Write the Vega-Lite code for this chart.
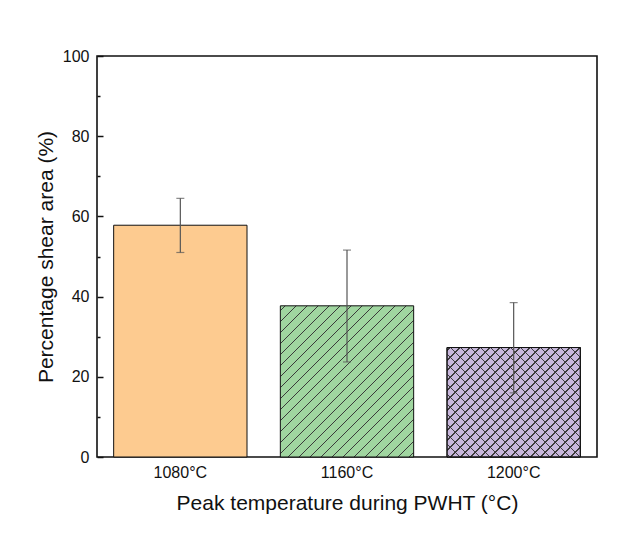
{
  "$schema": "https://vega.github.io/schema/vega-lite/v6.json",
  "autosize": {"type": "none"},
  "padding": {"left": 97, "top": 56, "right": 34, "bottom": 91},
  "width": 500,
  "height": 401,
  "background": "white",
  "config": {
    "font": "Liberation Sans",
    "view": {"stroke": "#111111", "strokeWidth": 1.6},
    "axis": {"domain": false, "grid": false, "labelColor": "#111111", "titleColor": "#111111", "labelFont": "Liberation Sans", "titleFont": "Liberation Sans", "labelFontSize": 16, "titleFontSize": 21, "titleFontWeight": "normal"}
  },
  "data": {
    "values": [
      {"temp": "1080°C", "value": 57.8, "lo": 51.0, "hi": 64.5},
      {"temp": "1160°C", "value": 37.7, "lo": 23.7, "hi": 51.6},
      {"temp": "1200°C", "value": 27.3, "lo": 16.0, "hi": 38.5}
    ]
  },
  "encoding": {
    "x": {
      "field": "temp", "type": "nominal", "sort": null,
      "scale": {"domain": ["1080°C", "1160°C", "1200°C"], "paddingInner": 0.2, "paddingOuter": 0.1},
      "axis": {"title": "Peak temperature during PWHT (°C)", "labelAngle": 0, "ticks": false, "labelPadding": 7, "titlePadding": 12}
    }
  },
  "layer": [
    {
      "transform": [{"filter": "datum.temp === '1080°C'"}],
      "mark": {"type": "bar", "fill": "#FDCB90", "stroke": "#111111", "strokeWidth": 1},
      "encoding": {
        "y": {
          "field": "value", "type": "quantitative",
          "scale": {"domain": [0, 100], "nice": false},
          "axis": {
            "title": "Percentage shear area (%)",
            "values": [0, 10, 20, 30, 40, 50, 60, 70, 80, 90, 100],
            "labelExpr": "datum.value % 20 === 0 ? datum.label : ''",
            "tickColor": "#111111",
            "tickWidth": 1.5,
            "tickSize": {"condition": {"test": "datum.value % 20 !== 0", "value": -3}, "value": -6},
            "labelPadding": 14,
            "titlePadding": 6
          }
        }
      }
    },
    {
      "transform": [{"filter": "datum.temp === '1160°C'"}],
      "mark": {
        "type": "bar", "stroke": "#111111", "strokeWidth": 1,
        "fill": {
          "gradient": "linear", "x1": 0, "y1": 0, "x2": 0.93361, "y2": 1.05856,
          "stops": [
            {"offset": 0, "color": "#A0D6A0"},
            {"offset": 0.01500, "color": "#A0D6A0"}, {"offset": 0.01500, "color": "#3a3a3a"}, {"offset": 0.02027, "color": "#3a3a3a"}, {"offset": 0.02027, "color": "#A0D6A0"},
            {"offset": 0.05366, "color": "#A0D6A0"}, {"offset": 0.05366, "color": "#3a3a3a"}, {"offset": 0.05894, "color": "#3a3a3a"}, {"offset": 0.05894, "color": "#A0D6A0"},
            {"offset": 0.09233, "color": "#A0D6A0"}, {"offset": 0.09233, "color": "#3a3a3a"}, {"offset": 0.09760, "color": "#3a3a3a"}, {"offset": 0.09760, "color": "#A0D6A0"},
            {"offset": 0.13099, "color": "#A0D6A0"}, {"offset": 0.13099, "color": "#3a3a3a"}, {"offset": 0.13626, "color": "#3a3a3a"}, {"offset": 0.13626, "color": "#A0D6A0"},
            {"offset": 0.16965, "color": "#A0D6A0"}, {"offset": 0.16965, "color": "#3a3a3a"}, {"offset": 0.17492, "color": "#3a3a3a"}, {"offset": 0.17492, "color": "#A0D6A0"},
            {"offset": 0.20832, "color": "#A0D6A0"}, {"offset": 0.20832, "color": "#3a3a3a"}, {"offset": 0.21359, "color": "#3a3a3a"}, {"offset": 0.21359, "color": "#A0D6A0"},
            {"offset": 0.24698, "color": "#A0D6A0"}, {"offset": 0.24698, "color": "#3a3a3a"}, {"offset": 0.25225, "color": "#3a3a3a"}, {"offset": 0.25225, "color": "#A0D6A0"},
            {"offset": 0.28564, "color": "#A0D6A0"}, {"offset": 0.28564, "color": "#3a3a3a"}, {"offset": 0.29091, "color": "#3a3a3a"}, {"offset": 0.29091, "color": "#A0D6A0"},
            {"offset": 0.32430, "color": "#A0D6A0"}, {"offset": 0.32430, "color": "#3a3a3a"}, {"offset": 0.32958, "color": "#3a3a3a"}, {"offset": 0.32958, "color": "#A0D6A0"},
            {"offset": 0.36297, "color": "#A0D6A0"}, {"offset": 0.36297, "color": "#3a3a3a"}, {"offset": 0.36824, "color": "#3a3a3a"}, {"offset": 0.36824, "color": "#A0D6A0"},
            {"offset": 0.40163, "color": "#A0D6A0"}, {"offset": 0.40163, "color": "#3a3a3a"}, {"offset": 0.40690, "color": "#3a3a3a"}, {"offset": 0.40690, "color": "#A0D6A0"},
            {"offset": 0.44029, "color": "#A0D6A0"}, {"offset": 0.44029, "color": "#3a3a3a"}, {"offset": 0.44557, "color": "#3a3a3a"}, {"offset": 0.44557, "color": "#A0D6A0"},
            {"offset": 0.47896, "color": "#A0D6A0"}, {"offset": 0.47896, "color": "#3a3a3a"}, {"offset": 0.48423, "color": "#3a3a3a"}, {"offset": 0.48423, "color": "#A0D6A0"},
            {"offset": 0.51762, "color": "#A0D6A0"}, {"offset": 0.51762, "color": "#3a3a3a"}, {"offset": 0.52289, "color": "#3a3a3a"}, {"offset": 0.52289, "color": "#A0D6A0"},
            {"offset": 0.55628, "color": "#A0D6A0"}, {"offset": 0.55628, "color": "#3a3a3a"}, {"offset": 0.56155, "color": "#3a3a3a"}, {"offset": 0.56155, "color": "#A0D6A0"},
            {"offset": 0.59494, "color": "#A0D6A0"}, {"offset": 0.59494, "color": "#3a3a3a"}, {"offset": 0.60022, "color": "#3a3a3a"}, {"offset": 0.60022, "color": "#A0D6A0"},
            {"offset": 0.63361, "color": "#A0D6A0"}, {"offset": 0.63361, "color": "#3a3a3a"}, {"offset": 0.63888, "color": "#3a3a3a"}, {"offset": 0.63888, "color": "#A0D6A0"},
            {"offset": 0.67227, "color": "#A0D6A0"}, {"offset": 0.67227, "color": "#3a3a3a"}, {"offset": 0.67754, "color": "#3a3a3a"}, {"offset": 0.67754, "color": "#A0D6A0"},
            {"offset": 0.71093, "color": "#A0D6A0"}, {"offset": 0.71093, "color": "#3a3a3a"}, {"offset": 0.71621, "color": "#3a3a3a"}, {"offset": 0.71621, "color": "#A0D6A0"},
            {"offset": 0.74960, "color": "#A0D6A0"}, {"offset": 0.74960, "color": "#3a3a3a"}, {"offset": 0.75487, "color": "#3a3a3a"}, {"offset": 0.75487, "color": "#A0D6A0"},
            {"offset": 0.78826, "color": "#A0D6A0"}, {"offset": 0.78826, "color": "#3a3a3a"}, {"offset": 0.79353, "color": "#3a3a3a"}, {"offset": 0.79353, "color": "#A0D6A0"},
            {"offset": 0.82692, "color": "#A0D6A0"}, {"offset": 0.82692, "color": "#3a3a3a"}, {"offset": 0.83219, "color": "#3a3a3a"}, {"offset": 0.83219, "color": "#A0D6A0"},
            {"offset": 0.86559, "color": "#A0D6A0"}, {"offset": 0.86559, "color": "#3a3a3a"}, {"offset": 0.87086, "color": "#3a3a3a"}, {"offset": 0.87086, "color": "#A0D6A0"},
            {"offset": 0.90425, "color": "#A0D6A0"}, {"offset": 0.90425, "color": "#3a3a3a"}, {"offset": 0.90952, "color": "#3a3a3a"}, {"offset": 0.90952, "color": "#A0D6A0"},
            {"offset": 0.94291, "color": "#A0D6A0"}, {"offset": 0.94291, "color": "#3a3a3a"}, {"offset": 0.94818, "color": "#3a3a3a"}, {"offset": 0.94818, "color": "#A0D6A0"},
            {"offset": 0.98157, "color": "#A0D6A0"}, {"offset": 0.98157, "color": "#3a3a3a"}, {"offset": 0.98685, "color": "#3a3a3a"}, {"offset": 0.98685, "color": "#A0D6A0"},
            {"offset": 1, "color": "#A0D6A0"}
          ]
        }
      },
      "encoding": {"y": {"field": "value", "type": "quantitative"}}
    },
    {
      "transform": [{"filter": "datum.temp === '1200°C'"}],
      "mark": {
        "type": "bar", "stroke": "#111111", "strokeWidth": 1,
        "fill": {
          "gradient": "linear", "x1": 0, "y1": 0, "x2": 1.08777, "y2": 0.89311,
          "stops": [
            {"offset": 0, "color": "#C9B8DD"},
            {"offset": 0.01000, "color": "#C9B8DD"}, {"offset": 0.01000, "color": "#3c3c3c"}, {"offset": 0.01618, "color": "#3c3c3c"}, {"offset": 0.01618, "color": "#C9B8DD"},
            {"offset": 0.05119, "color": "#C9B8DD"}, {"offset": 0.05119, "color": "#3c3c3c"}, {"offset": 0.05736, "color": "#3c3c3c"}, {"offset": 0.05736, "color": "#C9B8DD"},
            {"offset": 0.09237, "color": "#C9B8DD"}, {"offset": 0.09237, "color": "#3c3c3c"}, {"offset": 0.09855, "color": "#3c3c3c"}, {"offset": 0.09855, "color": "#C9B8DD"},
            {"offset": 0.13356, "color": "#C9B8DD"}, {"offset": 0.13356, "color": "#3c3c3c"}, {"offset": 0.13973, "color": "#3c3c3c"}, {"offset": 0.13973, "color": "#C9B8DD"},
            {"offset": 0.17474, "color": "#C9B8DD"}, {"offset": 0.17474, "color": "#3c3c3c"}, {"offset": 0.18092, "color": "#3c3c3c"}, {"offset": 0.18092, "color": "#C9B8DD"},
            {"offset": 0.21593, "color": "#C9B8DD"}, {"offset": 0.21593, "color": "#3c3c3c"}, {"offset": 0.22210, "color": "#3c3c3c"}, {"offset": 0.22210, "color": "#C9B8DD"},
            {"offset": 0.25711, "color": "#C9B8DD"}, {"offset": 0.25711, "color": "#3c3c3c"}, {"offset": 0.26329, "color": "#3c3c3c"}, {"offset": 0.26329, "color": "#C9B8DD"},
            {"offset": 0.29830, "color": "#C9B8DD"}, {"offset": 0.29830, "color": "#3c3c3c"}, {"offset": 0.30447, "color": "#3c3c3c"}, {"offset": 0.30447, "color": "#C9B8DD"},
            {"offset": 0.33948, "color": "#C9B8DD"}, {"offset": 0.33948, "color": "#3c3c3c"}, {"offset": 0.34566, "color": "#3c3c3c"}, {"offset": 0.34566, "color": "#C9B8DD"},
            {"offset": 0.38067, "color": "#C9B8DD"}, {"offset": 0.38067, "color": "#3c3c3c"}, {"offset": 0.38684, "color": "#3c3c3c"}, {"offset": 0.38684, "color": "#C9B8DD"},
            {"offset": 0.42185, "color": "#C9B8DD"}, {"offset": 0.42185, "color": "#3c3c3c"}, {"offset": 0.42803, "color": "#3c3c3c"}, {"offset": 0.42803, "color": "#C9B8DD"},
            {"offset": 0.46304, "color": "#C9B8DD"}, {"offset": 0.46304, "color": "#3c3c3c"}, {"offset": 0.46921, "color": "#3c3c3c"}, {"offset": 0.46921, "color": "#C9B8DD"},
            {"offset": 0.50422, "color": "#C9B8DD"}, {"offset": 0.50422, "color": "#3c3c3c"}, {"offset": 0.51040, "color": "#3c3c3c"}, {"offset": 0.51040, "color": "#C9B8DD"},
            {"offset": 0.54541, "color": "#C9B8DD"}, {"offset": 0.54541, "color": "#3c3c3c"}, {"offset": 0.55158, "color": "#3c3c3c"}, {"offset": 0.55158, "color": "#C9B8DD"},
            {"offset": 0.58659, "color": "#C9B8DD"}, {"offset": 0.58659, "color": "#3c3c3c"}, {"offset": 0.59277, "color": "#3c3c3c"}, {"offset": 0.59277, "color": "#C9B8DD"},
            {"offset": 0.62778, "color": "#C9B8DD"}, {"offset": 0.62778, "color": "#3c3c3c"}, {"offset": 0.63395, "color": "#3c3c3c"}, {"offset": 0.63395, "color": "#C9B8DD"},
            {"offset": 0.66896, "color": "#C9B8DD"}, {"offset": 0.66896, "color": "#3c3c3c"}, {"offset": 0.67514, "color": "#3c3c3c"}, {"offset": 0.67514, "color": "#C9B8DD"},
            {"offset": 0.71015, "color": "#C9B8DD"}, {"offset": 0.71015, "color": "#3c3c3c"}, {"offset": 0.71632, "color": "#3c3c3c"}, {"offset": 0.71632, "color": "#C9B8DD"},
            {"offset": 0.75133, "color": "#C9B8DD"}, {"offset": 0.75133, "color": "#3c3c3c"}, {"offset": 0.75751, "color": "#3c3c3c"}, {"offset": 0.75751, "color": "#C9B8DD"},
            {"offset": 0.79252, "color": "#C9B8DD"}, {"offset": 0.79252, "color": "#3c3c3c"}, {"offset": 0.79869, "color": "#3c3c3c"}, {"offset": 0.79869, "color": "#C9B8DD"},
            {"offset": 0.83370, "color": "#C9B8DD"}, {"offset": 0.83370, "color": "#3c3c3c"}, {"offset": 0.83988, "color": "#3c3c3c"}, {"offset": 0.83988, "color": "#C9B8DD"},
            {"offset": 0.87489, "color": "#C9B8DD"}, {"offset": 0.87489, "color": "#3c3c3c"}, {"offset": 0.88106, "color": "#3c3c3c"}, {"offset": 0.88106, "color": "#C9B8DD"},
            {"offset": 0.91607, "color": "#C9B8DD"}, {"offset": 0.91607, "color": "#3c3c3c"}, {"offset": 0.92225, "color": "#3c3c3c"}, {"offset": 0.92225, "color": "#C9B8DD"},
            {"offset": 0.95726, "color": "#C9B8DD"}, {"offset": 0.95726, "color": "#3c3c3c"}, {"offset": 0.96343, "color": "#3c3c3c"}, {"offset": 0.96343, "color": "#C9B8DD"},
            {"offset": 1, "color": "#C9B8DD"}
          ]
        }
      },
      "encoding": {"y": {"field": "value", "type": "quantitative"}}
    },
    {
      "transform": [{"filter": "datum.temp === '1200°C'"}],
      "mark": {
        "type": "bar", "stroke": "#111111", "strokeWidth": 1,
        "fill": {
          "gradient": "linear", "x1": 0, "y1": 1, "x2": 1.08777, "y2": 0.10689,
          "stops": [
            {"offset": 0, "color": "rgba(0,0,0,0)"},
            {"offset": 0.01000, "color": "rgba(0,0,0,0)"}, {"offset": 0.01000, "color": "#3c3c3c"}, {"offset": 0.01618, "color": "#3c3c3c"}, {"offset": 0.01618, "color": "rgba(0,0,0,0)"},
            {"offset": 0.05119, "color": "rgba(0,0,0,0)"}, {"offset": 0.05119, "color": "#3c3c3c"}, {"offset": 0.05736, "color": "#3c3c3c"}, {"offset": 0.05736, "color": "rgba(0,0,0,0)"},
            {"offset": 0.09237, "color": "rgba(0,0,0,0)"}, {"offset": 0.09237, "color": "#3c3c3c"}, {"offset": 0.09855, "color": "#3c3c3c"}, {"offset": 0.09855, "color": "rgba(0,0,0,0)"},
            {"offset": 0.13356, "color": "rgba(0,0,0,0)"}, {"offset": 0.13356, "color": "#3c3c3c"}, {"offset": 0.13973, "color": "#3c3c3c"}, {"offset": 0.13973, "color": "rgba(0,0,0,0)"},
            {"offset": 0.17474, "color": "rgba(0,0,0,0)"}, {"offset": 0.17474, "color": "#3c3c3c"}, {"offset": 0.18092, "color": "#3c3c3c"}, {"offset": 0.18092, "color": "rgba(0,0,0,0)"},
            {"offset": 0.21593, "color": "rgba(0,0,0,0)"}, {"offset": 0.21593, "color": "#3c3c3c"}, {"offset": 0.22210, "color": "#3c3c3c"}, {"offset": 0.22210, "color": "rgba(0,0,0,0)"},
            {"offset": 0.25711, "color": "rgba(0,0,0,0)"}, {"offset": 0.25711, "color": "#3c3c3c"}, {"offset": 0.26329, "color": "#3c3c3c"}, {"offset": 0.26329, "color": "rgba(0,0,0,0)"},
            {"offset": 0.29830, "color": "rgba(0,0,0,0)"}, {"offset": 0.29830, "color": "#3c3c3c"}, {"offset": 0.30447, "color": "#3c3c3c"}, {"offset": 0.30447, "color": "rgba(0,0,0,0)"},
            {"offset": 0.33948, "color": "rgba(0,0,0,0)"}, {"offset": 0.33948, "color": "#3c3c3c"}, {"offset": 0.34566, "color": "#3c3c3c"}, {"offset": 0.34566, "color": "rgba(0,0,0,0)"},
            {"offset": 0.38067, "color": "rgba(0,0,0,0)"}, {"offset": 0.38067, "color": "#3c3c3c"}, {"offset": 0.38684, "color": "#3c3c3c"}, {"offset": 0.38684, "color": "rgba(0,0,0,0)"},
            {"offset": 0.42185, "color": "rgba(0,0,0,0)"}, {"offset": 0.42185, "color": "#3c3c3c"}, {"offset": 0.42803, "color": "#3c3c3c"}, {"offset": 0.42803, "color": "rgba(0,0,0,0)"},
            {"offset": 0.46304, "color": "rgba(0,0,0,0)"}, {"offset": 0.46304, "color": "#3c3c3c"}, {"offset": 0.46921, "color": "#3c3c3c"}, {"offset": 0.46921, "color": "rgba(0,0,0,0)"},
            {"offset": 0.50422, "color": "rgba(0,0,0,0)"}, {"offset": 0.50422, "color": "#3c3c3c"}, {"offset": 0.51040, "color": "#3c3c3c"}, {"offset": 0.51040, "color": "rgba(0,0,0,0)"},
            {"offset": 0.54541, "color": "rgba(0,0,0,0)"}, {"offset": 0.54541, "color": "#3c3c3c"}, {"offset": 0.55158, "color": "#3c3c3c"}, {"offset": 0.55158, "color": "rgba(0,0,0,0)"},
            {"offset": 0.58659, "color": "rgba(0,0,0,0)"}, {"offset": 0.58659, "color": "#3c3c3c"}, {"offset": 0.59277, "color": "#3c3c3c"}, {"offset": 0.59277, "color": "rgba(0,0,0,0)"},
            {"offset": 0.62778, "color": "rgba(0,0,0,0)"}, {"offset": 0.62778, "color": "#3c3c3c"}, {"offset": 0.63395, "color": "#3c3c3c"}, {"offset": 0.63395, "color": "rgba(0,0,0,0)"},
            {"offset": 0.66896, "color": "rgba(0,0,0,0)"}, {"offset": 0.66896, "color": "#3c3c3c"}, {"offset": 0.67514, "color": "#3c3c3c"}, {"offset": 0.67514, "color": "rgba(0,0,0,0)"},
            {"offset": 0.71015, "color": "rgba(0,0,0,0)"}, {"offset": 0.71015, "color": "#3c3c3c"}, {"offset": 0.71632, "color": "#3c3c3c"}, {"offset": 0.71632, "color": "rgba(0,0,0,0)"},
            {"offset": 0.75133, "color": "rgba(0,0,0,0)"}, {"offset": 0.75133, "color": "#3c3c3c"}, {"offset": 0.75751, "color": "#3c3c3c"}, {"offset": 0.75751, "color": "rgba(0,0,0,0)"},
            {"offset": 0.79252, "color": "rgba(0,0,0,0)"}, {"offset": 0.79252, "color": "#3c3c3c"}, {"offset": 0.79869, "color": "#3c3c3c"}, {"offset": 0.79869, "color": "rgba(0,0,0,0)"},
            {"offset": 0.83370, "color": "rgba(0,0,0,0)"}, {"offset": 0.83370, "color": "#3c3c3c"}, {"offset": 0.83988, "color": "#3c3c3c"}, {"offset": 0.83988, "color": "rgba(0,0,0,0)"},
            {"offset": 0.87489, "color": "rgba(0,0,0,0)"}, {"offset": 0.87489, "color": "#3c3c3c"}, {"offset": 0.88106, "color": "#3c3c3c"}, {"offset": 0.88106, "color": "rgba(0,0,0,0)"},
            {"offset": 0.91607, "color": "rgba(0,0,0,0)"}, {"offset": 0.91607, "color": "#3c3c3c"}, {"offset": 0.92225, "color": "#3c3c3c"}, {"offset": 0.92225, "color": "rgba(0,0,0,0)"},
            {"offset": 0.95726, "color": "rgba(0,0,0,0)"}, {"offset": 0.95726, "color": "#3c3c3c"}, {"offset": 0.96343, "color": "#3c3c3c"}, {"offset": 0.96343, "color": "rgba(0,0,0,0)"},
            {"offset": 1, "color": "rgba(0,0,0,0)"}
          ]
        }
      },
      "encoding": {"y": {"field": "value", "type": "quantitative"}}
    },
    {
      "mark": {"type": "rule", "color": "#555555", "strokeWidth": 1.2},
      "encoding": {
        "y": {"field": "lo", "type": "quantitative"},
        "y2": {"field": "hi"}
      }
    },
    {
      "mark": {"type": "tick", "color": "#555555", "size": 8, "thickness": 1.2},
      "encoding": {"y": {"field": "lo", "type": "quantitative"}}
    },
    {
      "mark": {"type": "tick", "color": "#555555", "size": 8, "thickness": 1.2},
      "encoding": {"y": {"field": "hi", "type": "quantitative"}}
    }
  ]
}
